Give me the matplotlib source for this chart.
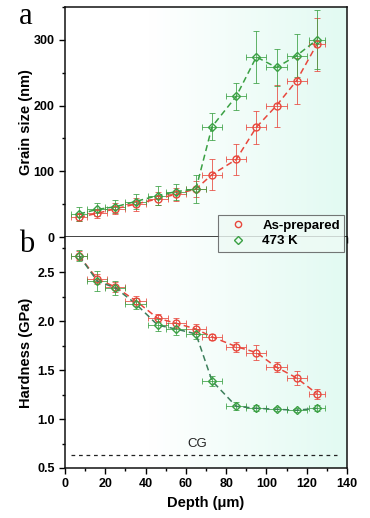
import numpy as np
import matplotlib
matplotlib.use("Agg")
import matplotlib.pyplot as plt
from matplotlib.colors import LinearSegmentedColormap
from matplotlib.ticker import MultipleLocator
from matplotlib.lines import Line2D

depth = [7, 16, 25, 35, 46, 55, 65, 73, 85, 95, 105, 115, 125]
depth_err = [4, 5, 5, 5, 5, 5, 5, 5, 5, 5, 5, 5, 4]

gs_prep = [30, 36, 43, 50, 58, 65, 73, 95, 118, 167, 200, 238, 293]
gs_prep_err = [6, 7, 8, 10, 10, 10, 12, 23, 24, 25, 32, 35, 40]
gs_473 = [35, 42, 46, 54, 63, 69, 73, 168, 214, 274, 258, 276, 300]
gs_473_err = [10, 10, 10, 12, 14, 12, 22, 20, 20, 40, 28, 33, 45]

hd_prep = [2.67, 2.43, 2.35, 2.21, 2.03, 1.98, 1.92, 1.84, 1.74, 1.68, 1.53, 1.42, 1.26]
hd_prep_err = [0.05, 0.05, 0.05, 0.05, 0.04, 0.05, 0.05, 0.03, 0.05, 0.08, 0.05, 0.07, 0.05]
hd_473 = [2.67, 2.41, 2.34, 2.18, 1.96, 1.92, 1.87, 1.39, 1.13, 1.11, 1.10, 1.09, 1.11]
hd_473_err = [0.06, 0.1, 0.07, 0.06, 0.06, 0.06, 0.05, 0.05, 0.04, 0.03, 0.02, 0.02, 0.03]

cg_level = 0.63
series_labels = ["As-prepared", "473 K"]

RED = "#e8473c"
GREEN = "#3aa043"
GREEN_DARK = "#3d7f5c"

plt.rcParams['font.family'] = ['Liberation Sans', 'DejaVu Sans']

fig = plt.figure(figsize=(3.70, 5.18), dpi=100)
L, R = 65/370, 347/370
ax1 = fig.add_axes([L, 1-237/518, R-L, (237-7)/518])
ax2 = fig.add_axes([L, 1-468/518, R-L, (468-237)/518])

cmap = LinearSegmentedColormap.from_list("bg", [(0, "#ffffff"), (0.3, "#ffffff"), (1.0, "#e2faf2")])
grad = np.linspace(0, 1, 256).reshape(1, -1)
for ax in (ax1, ax2):
    ax.imshow(grad, cmap=cmap, extent=[0, 1, 0, 1], transform=ax.transAxes,
              aspect='auto', zorder=0)

def plot_series(ax, x, y, ye, color, lcolor, marker, label, ms):
    ax.errorbar(x, y, yerr=ye, xerr=depth_err, fmt='none', ecolor=color,
                elinewidth=0.7, capsize=2, capthick=0.7, zorder=3, alpha=0.8)
    ax.plot(x, y, linestyle=(0, (4, 2.5)), color=lcolor, lw=1.1, zorder=4)
    ax.plot(x, y, linestyle='none', marker=marker,
            mfc='none', mec=color, ms=ms, mew=1.0, zorder=5, label=label)

plot_series(ax1, depth, gs_prep, gs_prep_err, RED, RED, 'o', series_labels[0], 5)
plot_series(ax1, depth, gs_473, gs_473_err, GREEN, GREEN, 'D', series_labels[1], 4.3)
plot_series(ax2, depth, hd_prep, hd_prep_err, RED, RED, 'o', series_labels[0], 5)
plot_series(ax2, depth, hd_473, hd_473_err, GREEN, GREEN_DARK, 'D', series_labels[1], 4.3)

ax2.plot([3, 135], [cg_level, cg_level], linestyle=(0, (3, 3)), color='#222222', lw=0.9, zorder=2)
ax2.text(65.5, cg_level + 0.05, "CG", ha='center', va='bottom', fontsize=9.5, color='#222222')

ax1.set_xlim(0, 140)
ax1.set_ylim(0, 350)
ax2.set_xlim(0, 140)
ax2.set_ylim(0.5, 2.86)

ax1.yaxis.set_major_locator(MultipleLocator(100))
ax1.yaxis.set_minor_locator(MultipleLocator(50))
ax1.xaxis.set_major_locator(MultipleLocator(20))
ax1.xaxis.set_minor_locator(MultipleLocator(10))
ax1.set_xticklabels([])
ax2.yaxis.set_major_locator(MultipleLocator(0.5))
ax2.yaxis.set_minor_locator(MultipleLocator(0.25))
ax2.xaxis.set_major_locator(MultipleLocator(20))
ax2.xaxis.set_minor_locator(MultipleLocator(10))

for ax in (ax1, ax2):
    ax.tick_params(axis='both', which='major', direction='out', length=4, width=1,
                   labelsize=9)
    ax.tick_params(axis='both', which='minor', direction='out', length=2.5, width=1)
    for lab in ax.get_xticklabels() + ax.get_yticklabels():
        lab.set_fontweight('bold')
    for sp in ax.spines.values():
        sp.set_linewidth(1.1)
        sp.set_color('#111111')

ax2.spines['top'].set_visible(False)

ax1.set_ylabel("Grain size (nm)", fontsize=10.5, fontweight='bold')
ax2.set_ylabel("Hardness (GPa)", fontsize=10.5, fontweight='bold')
ax2.set_xlabel("Depth (\u03bcm)", fontsize=10.5, fontweight='bold')
ax1.yaxis.set_label_coords(-0.113, 0.5)
ax2.yaxis.set_label_coords(-0.113, 0.5)

fig.text(19/370, 1-17/518, "a", fontsize=22, family=['Liberation Serif', 'DejaVu Serif'],
         ha='left', va='center')
fig.text(19/370, 1-245/518, "b", fontsize=22, family=['Liberation Serif', 'DejaVu Serif'],
         ha='left', va='center')

h = [Line2D([], [], ls='none', marker='o', mfc='none', mec=RED, ms=4.5),
     Line2D([], [], ls='none', marker='D', mfc='none', mec=GREEN, ms=4)]
leg = fig.legend(h, series_labels, loc='upper left',
                 bbox_to_anchor=(218/370, 1-215/518), bbox_transform=fig.transFigure,
                 prop={'weight': 'bold', 'size': 9.5}, frameon=True, fancybox=False,
                 handletextpad=0.6, borderpad=0.35, labelspacing=0.25, handlelength=2.4,
                 borderaxespad=0)
leg.get_frame().set_edgecolor('#555555')
leg.get_frame().set_facecolor('#eefaf5')
leg.get_frame().set_linewidth(0.8)
leg.set_zorder(10)

fig.savefig("out.png", dpi=100)
